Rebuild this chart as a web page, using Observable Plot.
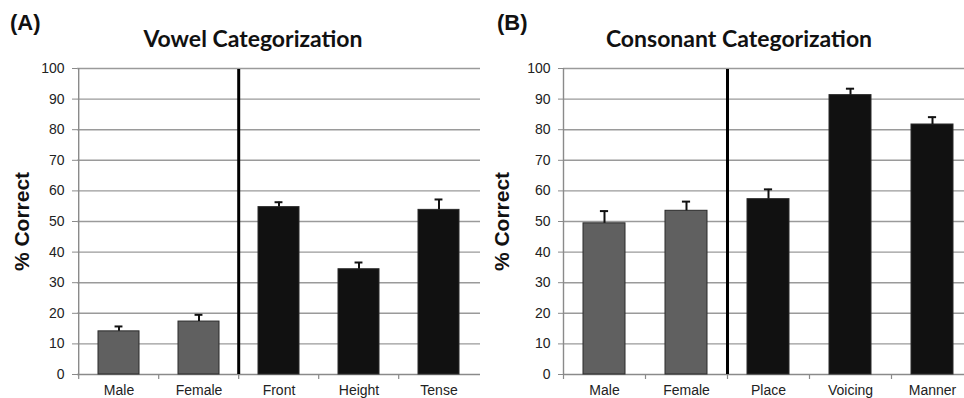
<!DOCTYPE html>
<html>
<head>
<meta charset="utf-8">
<script src="https://cdn.jsdelivr.net/npm/d3@7"></script>
<script src="https://cdn.jsdelivr.net/npm/@observablehq/plot@0.6"></script>
<style>
  html, body { margin: 0; padding: 0; background: #fff; }
  body { width: 964px; height: 398px; overflow: hidden; position: relative; font-family: "Liberation Sans", Arial, sans-serif; }
  .panel { position: absolute; top: 0; }
  .panel svg { max-width: none !important; display: block; }
  .panel text { font-family: "Liberation Sans", Arial, sans-serif; }
  .tag { position: absolute; font: bold 22px "Liberation Sans", Arial, sans-serif; color: #111; }
  .title { position: absolute; font: bold 23px Lato, "Open Sans", sans-serif; color: #111; text-align: center; white-space: nowrap; }
</style>
</head>
<body>
<div id="panelA" class="panel" style="left:0px; width:480px"></div>
<div id="panelB" class="panel" style="left:480px; width:493px"></div>
<div class="tag" style="left:10px; top:10px">(A)</div>
<div class="tag" style="left:497px; top:10px">(B)</div>
<div class="title" style="left:103px; width:300px; top:24px">Vowel Categorization</div>
<div class="title" style="left:589px; width:300px; top:24px">Consonant Categorization</div>
<script>
// ---- data ----
const categoriesA = ["Male", "Female", "Front", "Height", "Tense"];
const valuesA = [14.1, 17.3, 54.7, 34.4, 53.8];
const errorsA = [1.6, 2.2, 1.6, 2.2, 3.4];
const groupsA = ["speaker", "speaker", "feature", "feature", "feature"];

const categoriesB = ["Male", "Female", "Place", "Voicing", "Manner"];
const valuesB = [49.4, 53.5, 57.3, 91.3, 81.7];
const errorsB = [4.0, 3.0, 3.2, 2.1, 2.4];
const groupsB = ["speaker", "speaker", "feature", "feature", "feature"];

const yTicks = [0, 10, 20, 30, 40, 50, 60, 70, 80, 90, 100];
const yLabel = "% Correct";
const dividerA = ["Front"];
const dividerB = ["Place"];

function panel(cats, vals, errs, groups, divider, width, marginLeft) {
  const data = cats.map((c, i) => ({cat: c, value: vals[i], err: errs[i], group: groups[i]}));
  const marginRight = 0;
  const step = (width - marginLeft - marginRight) / cats.length;
  const bandwidth = step * (1 - 0.49);
  const capInset = (bandwidth - 8) / 2;
  return Plot.plot({
    width, height: 398,
    marginTop: 68, marginBottom: 24, marginLeft, marginRight,
    style: "font-family: 'Liberation Sans', Arial, sans-serif; font-size: 14px; color: #222; background: transparent; max-width: none;",
    x: {domain: cats, paddingInner: 0.49, paddingOuter: 0.245, axis: null},
    y: {domain: [0, 100], axis: null},
    marks: [
      Plot.gridY(yTicks.filter(t => t > 0), {stroke: "#9a9a9a", strokeOpacity: 1, strokeWidth: 1.4}),
      Plot.ruleY([0], {stroke: "#8a8a8a", strokeWidth: 1.4}),
      // left axis line
      Plot.ruleX([cats[0]], {x: d => d, y1: 0, y2: 100, dx: -step / 2, stroke: "#8a8a8a", strokeWidth: 1.4}),
      // boundary ticks under x axis
      Plot.ruleX(cats, {x: d => d, y1: 0, y2: 0, insetBottom: -5, dx: -step / 2, stroke: "#8a8a8a", strokeWidth: 1.2}),
      Plot.barY(data, {x: "cat", y: "value", fill: d => d.group === "speaker" ? "#606060" : "#111111", stroke: "#2a2a2a", strokeWidth: 1}),
      Plot.ruleX(data, {x: "cat", y1: "value", y2: d => d.value + d.err, stroke: "#111", strokeWidth: 2}),
      Plot.tickY(data, {x: "cat", y: d => d.value + d.err, stroke: "#111", strokeWidth: 2, insetLeft: capInset, insetRight: capInset}),
      // group divider
      Plot.ruleX(divider, {x: d => d, y1: 0, y2: 100, insetBottom: -1, dx: -step / 2, stroke: "#000", strokeWidth: 3}),
      Plot.axisY(yTicks, {tickSize: 5, tickPadding: 8, stroke: "#8a8a8a", fontSize: 14, label: null}),
      Plot.axisX({tickSize: 0, tickPadding: 11, fontSize: 14, label: null}),
      Plot.text([yLabel], {frameAnchor: "left", rotate: -90, dx: -(marginLeft - 22), fontSize: 21, fontWeight: "bold", fill: "#111", textAnchor: "middle", lineAnchor: "middle"})
    ]
  });
}

document.getElementById("panelA").append(panel(categoriesA, valuesA, errorsA, groupsA, dividerA, 480, 77));
document.getElementById("panelB").append(panel(categoriesB, valuesB, errorsB, groupsB, dividerB, 493, 83));
</script>
</body>
</html>
